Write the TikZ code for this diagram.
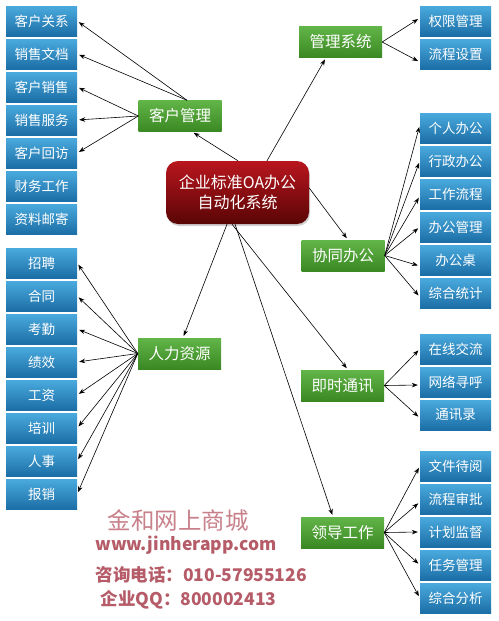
\documentclass[tikz,border=0pt]{standalone}
\usepackage{fontspec}
\setmainfont{Noto Sans CJK SC}
\usetikzlibrary{arrows.meta,shadows}
\definecolor{bluetop}{HTML}{4AAADE}
\definecolor{bluebot}{HTML}{1B6EA6}
\definecolor{greentop}{HTML}{62B548}
\definecolor{greenbot}{HTML}{3A8823}
\definecolor{redtop}{HTML}{B8161E}
\definecolor{redbot}{HTML}{5A0505}
\definecolor{markpink}{HTML}{C8808A}
\definecolor{markred}{HTML}{B55C68}
\begin{document}
\begin{tikzpicture}[x=1pt, y=-1pt,
  item/.style={rectangle, top color=bluetop, bottom color=bluebot, text=white,
    minimum width=71pt, minimum height=30pt, inner sep=0pt,
    font=\fontsize{13.5}{14}\selectfont},
  topic/.style={rectangle, top color=greentop, bottom color=greenbot, text=white,
    minimum width=83pt, minimum height=31pt, inner sep=0pt,
    font=\fontsize{15.5}{16}\selectfont},
  hub/.style={rectangle, rounded corners=12pt, top color=redtop, bottom color=redbot,
    text=white, minimum width=143pt, minimum height=63pt, align=center,
    font=\fontsize{16}{20}\selectfont,
    drop shadow={opacity=0.35, shadow xshift=1pt, shadow yshift=-2pt}},
  link/.style={-{Stealth[length=6pt,width=4.5pt]}, line width=0.6pt, shorten >=2pt},
  shopmark/.style={text=markred, font=\fontsize{17.5}{18}\selectfont\bfseries, anchor=west}]
\useasboundingbox [fill=white] (0,0) rectangle (498,621);

% center
\node [hub] (oa) at (237.5,192.5) {企业标准OA办公\\自动化系统};

% topics
\node [topic] (kh) at (180,116) {客户管理};
\node [topic] (gl) at (340.5,42) {管理系统};
\node [topic] (xt) at (343,255.5) {协同办公};
\node [topic] (hr) at (179.5,353.5) {人力资源};
\node [topic] (js) at (342.5,385.5) {即时通讯};
\node [topic] (ld) at (342.5,532.5) {领导工作};

% customer side
\node [item] (k1) at (41.5,21) {客户关系};
\node [item] (k2) at (41.5,54) {销售文档};
\node [item] (k3) at (41.5,87) {客户销售};
\node [item] (k4) at (41.5,120) {销售服务};
\node [item] (k5) at (41.5,153) {客户回访};
\node [item] (k6) at (41.5,186) {财务工作};
\node [item] (k7) at (41.5,219) {资料邮寄};

% human resources
\node [item] (h1) at (41.5,263) {招聘};
\node [item] (h2) at (41.5,296) {合同};
\node [item] (h3) at (41.5,329) {考勤};
\node [item] (h4) at (41.5,362) {绩效};
\node [item] (h5) at (41.5,395) {工资};
\node [item] (h6) at (41.5,428) {培训};
\node [item] (h7) at (41.5,461) {人事};
\node [item] (h8) at (41.5,494) {报销};

% management
\node [item] (g1) at (455.5,21) {权限管理};
\node [item] (g2) at (455.5,54) {流程设置};

% office work
\node [item] (x1) at (455.5,128) {个人办公};
\node [item] (x2) at (455.5,161) {行政办公};
\node [item] (x3) at (455.5,194) {工作流程};
\node [item] (x4) at (455.5,227) {办公管理};
\node [item] (x5) at (455.5,260) {办公桌};
\node [item] (x6) at (455.5,293) {综合统计};

% messaging
\node [item] (j1) at (455.5,349) {在线交流};
\node [item] (j2) at (455.5,382) {网络寻呼};
\node [item] (j3) at (455.5,415) {通讯录};

% leaders
\node [item] (l1) at (455.5,466) {文件待阅};
\node [item] (l2) at (455.5,499) {流程审批};
\node [item] (l3) at (455.5,532) {计划监督};
\node [item] (l4) at (455.5,565) {任务管理};
\node [item] (l5) at (455.5,598) {综合分析};

% center to topics
\draw [link] ([xshift=0.5pt]oa.north) -- ([xshift=12pt]kh.south);
\draw [link] ([xshift=29.5pt]oa.north) -- ([xshift=-14.5pt]gl.south);
\draw [link] ([yshift=4.5pt]oa.east) -- ([xshift=5pt]xt.north);
\draw [link] ([xshift=-10.5pt]oa.south) -- ([xshift=3.5pt]hr.north);
\draw [link] ([xshift=-5.5pt]oa.south) -- ([xshift=5.5pt]js.north);
\draw [link] ([xshift=-2.5pt]oa.south) -- ([xshift=-9.5pt]ld.north);

% topics to items
\draw [link] ([xshift=7pt]kh.north) -- (k1.east);
\draw [link] ([xshift=7pt]kh.north) -- (k2.east);
\draw [link] (kh.west) -- (k3.east);
\draw [link] (kh.west) -- (k4.east);
\draw [link] (kh.west) -- (k5.east);

\draw [link] (hr.west) -- (h1.east);
\draw [link] (hr.west) -- (h2.east);
\draw [link] (hr.west) -- (h3.east);
\draw [link] (hr.west) -- (h4.east);
\draw [link] (hr.west) -- (h5.east);
\draw [link] (hr.west) -- (h6.east);
\draw [link] (hr.west) -- (h7.east);
\draw [link] (hr.west) -- (h8.east);

\draw [link] (gl.east) -- ([yshift=3pt]g1.west);
\draw [link] (gl.east) -- ([yshift=-8pt]g2.west);

\draw [link] (xt.east) -- ([yshift=3pt]x1.west);
\draw [link] (xt.east) -- (x2.west);
\draw [link] (xt.east) -- ([yshift=-2pt]x3.west);
\draw [link] (xt.east) -- (x4.west);
\draw [link] (xt.east) -- ([yshift=-6pt]x5.west);
\draw [link] (xt.east) -- ([yshift=-4pt]x6.west);

\draw [link] (js.east) -- (j1.west);
\draw [link] (js.east) -- ([yshift=-3pt]j2.west);
\draw [link] (js.east) -- ([yshift=-3pt]j3.west);

\draw [link] (ld.east) -- (l1.west);
\draw [link] (ld.east) -- ([yshift=-3pt]l2.west);
\draw [link] (ld.east) -- (l3.west);
\draw [link] (ld.east) -- (l4.west);
\draw [link] (ld.east) -- (l5.west);

% shop mark
\node [text=markpink, font=\fontsize{23.5}{24}\selectfont, anchor=west] (shop) at (104,520) {金和网上商城};
\node [shopmark] (web) at (92,545) {www.jinherapp.com};
\node [shopmark] (tel) at (92,575) {咨询电话：010-57955126};
\node [shopmark] (qq) at (97,600) {企业QQ：800002413};
\end{tikzpicture}
\end{document}
